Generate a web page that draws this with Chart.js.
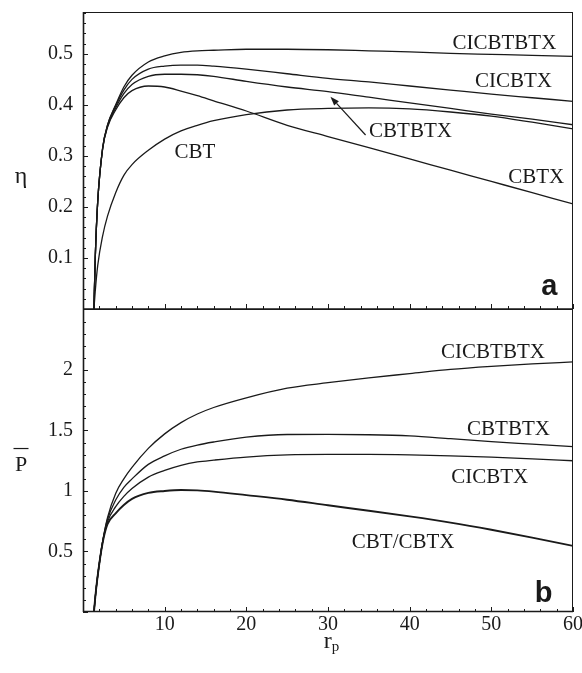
<!DOCTYPE html>
<html>
<head>
<meta charset="utf-8">
<script src="https://cdn.jsdelivr.net/npm/chart.js@4.4.1/dist/chart.umd.min.js"></script>
<style>
html,body{margin:0;padding:0;background:#fff;}
#wrap{position:relative;width:582px;height:673px;background:#fff;}
canvas{display:block;}
</style>
</head>
<body>
<div id="wrap"><canvas id="c" width="582" height="673"></canvas></div>
<script>
// ---- data ----
const rp = [1.34, 1.5, 1.8, 2.4, 3, 4, 5, 6, 8, 10, 12, 14, 16, 20, 25, 30, 35, 40, 45, 50, 55, 60];

// panel a : efficiency eta
const etaCICBTBTX = [0, 0.10, 0.21, 0.315, 0.36, 0.40, 0.435, 0.458, 0.484, 0.496, 0.503, 0.506, 0.507, 0.509, 0.509, 0.508, 0.506, 0.504, 0.501, 0.499, 0.497, 0.495];
const etaCICBTX   = [0, 0.10, 0.21, 0.315, 0.36, 0.398, 0.429, 0.450, 0.470, 0.476, 0.478, 0.478, 0.476, 0.470, 0.461, 0.452, 0.445, 0.437, 0.429, 0.421, 0.414, 0.407];
const etaCBTBTX   = [0, 0.10, 0.21, 0.314, 0.358, 0.394, 0.422, 0.440, 0.456, 0.460, 0.460, 0.459, 0.456, 0.446, 0.435, 0.426, 0.415, 0.404, 0.393, 0.382, 0.372, 0.361];
const etaCBTX     = [0, 0.10, 0.21, 0.313, 0.356, 0.39, 0.414, 0.428, 0.437, 0.435, 0.427, 0.418, 0.408, 0.388, 0.360, 0.338, 0.316, 0.294, 0.272, 0.250, 0.228, 0.206];
const etaCBT      = [0, 0.035, 0.085, 0.143, 0.182, 0.228, 0.262, 0.283, 0.311, 0.333, 0.349, 0.360, 0.369, 0.381, 0.390, 0.393, 0.394, 0.392, 0.386, 0.378, 0.366, 0.353];

// panel b : dimensionless power P-bar
const pCICBTBTX = [0, 0.12, 0.30, 0.58, 0.78, 0.98, 1.10, 1.195, 1.352, 1.472, 1.565, 1.636, 1.69, 1.77, 1.85, 1.895, 1.935, 1.97, 2.005, 2.03, 2.05, 2.067];
const pCBTBTX   = [0, 0.12, 0.30, 0.58, 0.765, 0.925, 1.03, 1.10, 1.22, 1.29, 1.345, 1.38, 1.405, 1.445, 1.467, 1.468, 1.465, 1.455, 1.432, 1.408, 1.387, 1.366];
const pCICBTX   = [0, 0.12, 0.30, 0.575, 0.745, 0.87, 0.955, 1.02, 1.115, 1.17, 1.212, 1.24, 1.255, 1.28, 1.298, 1.302, 1.302, 1.298, 1.29, 1.28, 1.266, 1.25];
const pCBT_CBTX = [0, 0.12, 0.30, 0.57, 0.725, 0.815, 0.884, 0.935, 0.984, 1.0, 1.008, 1.005, 0.995, 0.966, 0.928, 0.882, 0.837, 0.79, 0.739, 0.68, 0.615, 0.546];

// tick labels
const xTickValues = [10, 20, 30, 40, 50, 60];
const etaTickValues = [0.1, 0.2, 0.3, 0.4, 0.5];
const pTickValues = [0.5, 1, 1.5, 2];

// axis ranges and minor steps
const xMin = 0, xMax = 60, xMinorStep = 2, xMajorStep = 10;
const etaMin = 0, etaMax = 0.582, etaMinorStep = 0.02, etaMajorStep = 0.1;
const pMin = 0, pMax = 2.504, pMinorStep = 0.1, pMajorStep = 0.5;

// curve labels (anchor in data units: centre x, baseline y)
const labelsTop = [
  {text: 'CICBTBTX', r: 51.6, v: 0.509},
  {text: 'CICBTX', r: 52.7, v: 0.435},
  {text: 'CBTBTX', r: 40.1, v: 0.337},
  {text: 'CBTX', r: 55.5, v: 0.246},
  {text: 'CBT', r: 13.7, v: 0.295}
];
const labelsBottom = [
  {text: 'CICBTBTX', r: 50.2, v: 2.097},
  {text: 'CBTBTX', r: 52.1, v: 1.463},
  {text: 'CICBTX', r: 49.8, v: 1.069},
  {text: 'CBT/CBTX', r: 39.2, v: 0.526}
];
const arrowTop = {fromR: 34.6, fromV: 0.341, toR: 30.3, toV: 0.416};

const pts = (ys) => rp.map((r, i) => ({x: r, y: ys[i]}));
const INK = '#1a1a1a';

function ds(label, ys, axis, w) {
  return {label, data: pts(ys), yAxisID: axis, borderColor: INK, borderWidth: w || 1.3,
    pointRadius: 0, fill: false, cubicInterpolationMode: 'monotone'};
}

const decor = {
  id: 'decor',
  afterDraw(chart) {
    const ctx = chart.ctx;
    const x = chart.scales.x, yt = chart.scales.yTop, yb = chart.scales.yBot;
    const L = chart.chartArea.left, R = chart.chartArea.right;
    ctx.save();
    // frames
    ctx.strokeStyle = INK;
    ctx.lineWidth = 1;
    ctx.strokeRect(L + 0.5, yt.top + 0.5, R - L - 1, yt.bottom - yt.top);
    ctx.strokeRect(L + 0.5, yb.top + 0.5, R - L - 1, yb.bottom - yb.top - 1);
    ctx.lineWidth = 1.6;
    ctx.beginPath();
    ctx.moveTo(L + 0.5, yt.top); ctx.lineTo(L + 0.5, yb.bottom);
    ctx.moveTo(L, yt.bottom); ctx.lineTo(R, yt.bottom);
    ctx.moveTo(L, yb.bottom - 0.5); ctx.lineTo(R, yb.bottom - 0.5);
    ctx.stroke();
    // inner ticks
    ctx.lineWidth = 1;
    ctx.beginPath();
    for (let v = xMin; v <= xMax + 1e-9; v += xMinorStep) {
      const px = Math.round(x.getPixelForValue(v)) + 0.5;
      const major = Math.abs(v / xMajorStep - Math.round(v / xMajorStep)) < 1e-6;
      const len = major ? 5 : 3;
      ctx.moveTo(px, yt.bottom); ctx.lineTo(px, yt.bottom - len);
      ctx.moveTo(px, yb.bottom); ctx.lineTo(px, yb.bottom - len);
    }
    for (let v = etaMin; v <= etaMax + 1e-9; v += etaMinorStep) {
      const py = Math.round(yt.getPixelForValue(v)) + 0.5;
      const major = Math.abs(v / etaMajorStep - Math.round(v / etaMajorStep)) < 1e-6;
      ctx.moveTo(L, py); ctx.lineTo(L + (major ? 5 : 3), py);
    }
    for (let v = pMin; v <= pMax + 1e-9; v += pMinorStep) {
      const py = Math.round(yb.getPixelForValue(v)) + 0.5;
      const major = Math.abs(v / pMajorStep - Math.round(v / pMajorStep)) < 1e-6;
      ctx.moveTo(L, py); ctx.lineTo(L + (major ? 5 : 3), py);
    }
    ctx.stroke();

    // curve labels
    ctx.fillStyle = INK;
    ctx.font = '21px "Liberation Serif", "Times New Roman", serif';
    ctx.textAlign = 'center';
    ctx.textBaseline = 'alphabetic';
    labelsTop.forEach(l => ctx.fillText(l.text, x.getPixelForValue(l.r), yt.getPixelForValue(l.v)));
    labelsBottom.forEach(l => ctx.fillText(l.text, x.getPixelForValue(l.r), yb.getPixelForValue(l.v)));

    // arrow
    const ax0 = x.getPixelForValue(arrowTop.fromR), ay0 = yt.getPixelForValue(arrowTop.fromV);
    const ax1 = x.getPixelForValue(arrowTop.toR), ay1 = yt.getPixelForValue(arrowTop.toV);
    const ang = Math.atan2(ay1 - ay0, ax1 - ax0);
    const hl = 9, hw = 3.2;
    const bx = ax1 - hl * Math.cos(ang), by = ay1 - hl * Math.sin(ang);
    ctx.lineWidth = 1.2;
    ctx.beginPath(); ctx.moveTo(ax0, ay0); ctx.lineTo(bx, by); ctx.stroke();
    ctx.beginPath();
    ctx.moveTo(ax1, ay1);
    ctx.lineTo(bx + hw * Math.sin(ang), by - hw * Math.cos(ang));
    ctx.lineTo(bx - hw * Math.sin(ang), by + hw * Math.cos(ang));
    ctx.closePath(); ctx.fill();

    // panel letters
    ctx.font = 'bold 29px "Liberation Sans", Arial, sans-serif';
    ctx.fillText('a', x.getPixelForValue(57.1), yt.getPixelForValue(0.027));
    ctx.fillText('b', x.getPixelForValue(56.4), yb.getPixelForValue(0.085));

    // axis titles
    ctx.font = '24px "Liberation Serif", "Times New Roman", serif';
    ctx.textBaseline = 'middle';
    ctx.fillText('\u03B7', L - 62, yt.getPixelForValue(0.26));
    ctx.textBaseline = 'alphabetic';
    ctx.font = '22px "Liberation Serif", "Times New Roman", serif';
    const pY = yb.getPixelForValue(1.165);
    ctx.fillText('P', L - 62, pY);
    ctx.lineWidth = 1.2;
    ctx.beginPath(); ctx.moveTo(L - 69.5, pY - 22.5); ctx.lineTo(L - 54.5, pY - 22.5); ctx.stroke();
    const rX = x.getPixelForValue(30.1);
    ctx.font = '24px "Liberation Serif", "Times New Roman", serif';
    ctx.textAlign = 'right';
    ctx.fillText('r', rX + 3, 648);
    ctx.textAlign = 'left';
    ctx.font = '15px "Liberation Serif", "Times New Roman", serif';
    ctx.fillText('p', rX + 3, 651);
    ctx.restore();
  }
};

const tickFont = {family: '"Liberation Serif", "Times New Roman", serif', size: 20};
const fmt = v => String(Number(v.toFixed(2)));

new Chart(document.getElementById('c'), {
  type: 'line',
  data: {
    datasets: [
      ds('CICBTBTX', etaCICBTBTX, 'yTop'),
      ds('CICBTX', etaCICBTX, 'yTop'),
      ds('CBTBTX', etaCBTBTX, 'yTop'),
      ds('CBTX', etaCBTX, 'yTop'),
      ds('CBT', etaCBT, 'yTop'),
      ds('CICBTBTX', pCICBTBTX, 'yBot'),
      ds('CBTBTX', pCBTBTX, 'yBot'),
      ds('CICBTX', pCICBTX, 'yBot'),
      ds('CBT/CBTX', pCBT_CBTX, 'yBot', 1.9)
    ]
  },
  options: {
    responsive: false,
    animation: false,
    devicePixelRatio: 1,
    layout: {padding: {top: 12, right: 9, left: 0, bottom: 0}},
    plugins: {legend: {display: false}, tooltip: {enabled: false}},
    scales: {
      x: {
        type: 'linear', min: xMin, max: xMax,
        grid: {display: false, drawTicks: false},
        border: {display: false},
        ticks: {font: tickFont, color: INK, padding: 1, maxRotation: 0, autoSkip: false, callback: fmt},
        afterBuildTicks: s => { s.ticks = xTickValues.map(v => ({value: v})); },
        afterFit: s => { s.height = 61; s.paddingLeft = 0; s.paddingRight = 0; }
      },
      yTop: {
        type: 'linear', position: 'left', stack: 'panels', stackWeight: 297, weight: 2,
        min: etaMin, max: etaMax,
        grid: {display: false, drawTicks: false},
        border: {display: false},
        ticks: {font: tickFont, color: INK, padding: 10, autoSkip: false, callback: fmt},
        afterBuildTicks: s => { s.ticks = etaTickValues.map(v => ({value: v})); },
        afterFit: s => { s.width = 83; s.paddingTop = 0; s.paddingBottom = 0; }
      },
      yBot: {
        type: 'linear', position: 'left', stack: 'panels', stackWeight: 303, weight: 1,
        min: pMin, max: pMax,
        grid: {display: false, drawTicks: false},
        border: {display: false},
        ticks: {font: tickFont, color: INK, padding: 10, autoSkip: false, callback: fmt},
        afterBuildTicks: s => { s.ticks = pTickValues.map(v => ({value: v})); },
        afterFit: s => { s.width = 83; s.paddingTop = 0; s.paddingBottom = 0; }
      }
    }
  },
  plugins: [decor]
});
</script>
</body>
</html>
